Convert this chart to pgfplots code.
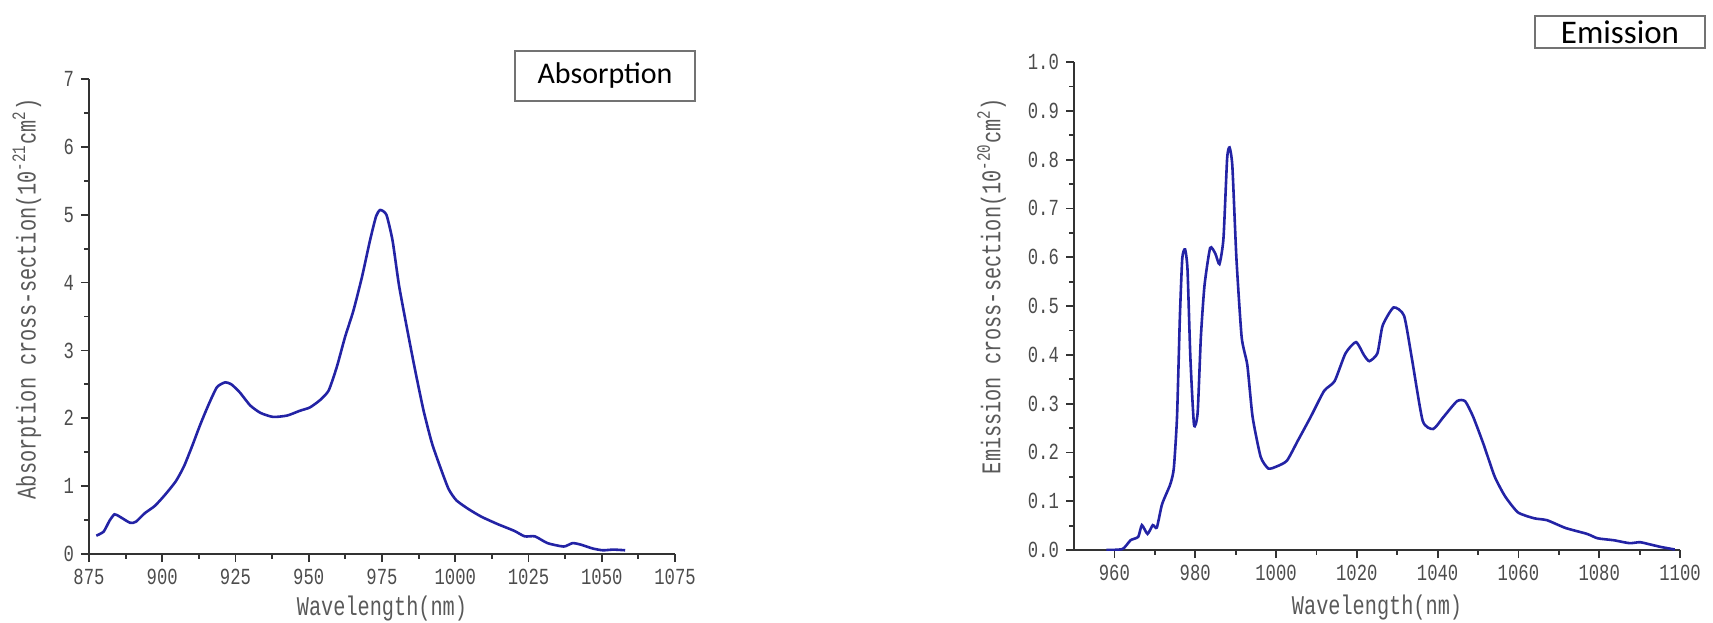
\documentclass[border=0pt]{standalone}
\usepackage{pgfplots}
\pgfplotsset{compat=1.18}
\usepackage{fontspec}
\setmainfont{Liberation Mono}
\newfontfamily\monofont[FakeStretch=0.75]{Liberation Mono}
\newfontfamily\boxfont{Carlito}
\definecolor{curve}{RGB}{35,35,165}

\pgfplotsset{
  spec/.style={
    scale only axis,
    axis x line*=bottom, axis y line*=left,
    axis line style={-, draw=black!80, line width=0.9pt},
    tick align=outside,
    major tick length=4pt, minor tick length=2.3pt,
    tick style={black!80, line width=0.9pt},
    minor tick num=1,
    tick label style={font=\monofont\fontsize{11.5}{12}\selectfont, text=black!70},
    label style={font=\monofont\fontsize{13.5}{14}\selectfont, text=black!65},
    /pgf/number format/assume math mode=true,
    /pgf/number format/1000 sep={},
    xlabel style={anchor=center},
    ylabel style={anchor=center},
  },
}

\begin{document}
\begin{tikzpicture}
\path[use as bounding box] (0,0) rectangle (856.5pt,311pt);

% absorption
\begin{axis}[spec,
  at={(44.5pt,34pt)}, anchor=south west,
  width=293pt, height=237.5pt,
  xmin=875, xmax=1075, ymin=0, ymax=7,
  xtick={875,900,...,1075}, ytick={0,...,7},
  xlabel={Wavelength(nm)},
  ylabel={Absorption cross-section(10\textsuperscript{-21}cm\textsuperscript{2})},
  xlabel style={at={(axis description cs:0.5,-0.114)}},
  ylabel style={at={(axis description cs:-0.106,0.537)}},
]
\addplot[curve, line width=1.3pt, smooth, tension=0.35] coordinates {
(877.5,0.27) (880,0.33) (882,0.49) (883.7,0.585) (885.5,0.55) (889,0.46)
(891,0.475) (894,0.60) (897.5,0.71) (901,0.875) (904.6,1.07) (907.4,1.29)
(910.2,1.59) (913,1.91) (915.9,2.21) (918.7,2.46) (921.5,2.53) (923.6,2.50)
(926.5,2.38) (930,2.19) (933.5,2.08) (937.8,2.02) (942.6,2.04) (946.9,2.11)
(950.4,2.16) (953.9,2.27) (956.8,2.41) (959.6,2.76) (962.4,3.20) (965.2,3.58)
(968.1,4.07) (970.9,4.62) (973,4.98) (974.4,5.07) (976.5,5.00) (978.6,4.62)
(980.8,3.96) (983.6,3.31) (986.3,2.71) (989.2,2.11) (992,1.64) (994.8,1.29)
(997.7,0.96) (1000.4,0.79) (1004.6,0.66) (1008.9,0.55) (1014.5,0.44)
(1020.2,0.34) (1023.7,0.26) (1027.2,0.26) (1031.5,0.16) (1037,0.11)
(1040,0.16) (1042.7,0.14) (1047,0.08) (1050.4,0.055) (1054,0.065) (1058,0.055)
};
\end{axis}

% emission
\begin{axis}[spec,
  at={(537pt,36pt)}, anchor=south west,
  width=303pt, height=244pt,
  xmin=950, xmax=1100, ymin=0, ymax=1,
  xtick={960,980,...,1100},
  ytick={0,0.1,0.2,0.3,0.4,0.5,0.6,0.7,0.8,0.9,1.0},
  yticklabel style={/pgf/number format/fixed, /pgf/number format/fixed zerofill, /pgf/number format/precision=1},
  xlabel={Wavelength(nm)},
  ylabel={Emission cross-section(10\textsuperscript{-20}cm\textsuperscript{2})},
  xlabel style={at={(axis description cs:0.5,-0.117)}},
  ylabel style={at={(axis description cs:-0.136,0.541)}},
]
\addplot[curve, line width=1.3pt, smooth, tension=0.35] coordinates {
(958,0) (962,0.002) (964,0.02) (965.9,0.027) (966.8,0.051) (968.2,0.033)
(969.5,0.051) (970.5,0.046) (971.8,0.094) (973.8,0.134) (974.7,0.167)
(975.5,0.273) (976.2,0.476) (976.8,0.598) (977.5,0.616) (978.1,0.574)
(978.8,0.395) (979.7,0.257) (980.6,0.281) (981.4,0.436) (982.3,0.542)
(983.7,0.619) (985,0.607) (986,0.586) (987,0.639) (987.9,0.802) (988.5,0.825)
(989.2,0.786) (990.2,0.598) (991.5,0.436) (992.9,0.379) (994.2,0.273)
(996.2,0.191) (998.1,0.167) (1000.1,0.171) (1002.7,0.183) (1005.4,0.224)
(1008.6,0.273) (1011.9,0.326) (1014.5,0.346) (1017.2,0.403) (1019.8,0.426)
(1021.8,0.399) (1023.1,0.387) (1025.1,0.403) (1026.4,0.460) (1029.1,0.497)
(1031.7,0.480) (1033.6,0.394) (1036.3,0.265) (1038.9,0.248) (1041.5,0.273)
(1044.8,0.305) (1046.8,0.305) (1048.8,0.273) (1051.4,0.216) (1054.1,0.151)
(1056.7,0.110) (1059.9,0.077) (1063.9,0.065) (1067.1,0.061) (1071.7,0.045)
(1077,0.033) (1079.6,0.024) (1083.6,0.020) (1087.5,0.014) (1090.1,0.016)
(1092.8,0.011) (1095.4,0.006) (1098.7,0.001)
};
\end{axis}

% title boxes
\draw[black!55, line width=0.7pt] (257.5pt,260.5pt) rectangle (347.5pt,285.5pt);
\node[font=\boxfont\fontsize{15}{16}\selectfont] at (302.5pt,273pt) {Absorption};
\draw[black!55, line width=0.7pt] (767.5pt,287pt) rectangle (852.5pt,303pt);
\node[font=\boxfont\fontsize{16.5}{17}\selectfont] at (810pt,295pt) {Emission};
\end{tikzpicture}
\end{document}
